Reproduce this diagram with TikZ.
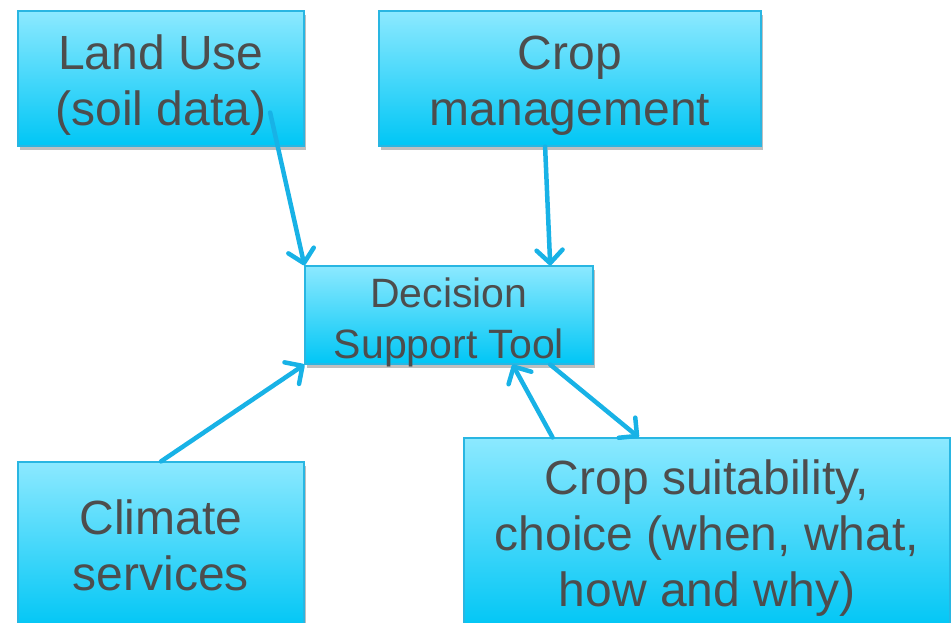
\documentclass[tikz,border=0pt]{standalone}
\usepackage{fontspec}
\setmainfont{Liberation Sans}
\usetikzlibrary{arrows.meta,calc,shadows}
\definecolor{txt}{HTML}{4D4D4D}
\definecolor{boxtop}{HTML}{8CE9FF}
\definecolor{boxbot}{HTML}{00C6F5}
\definecolor{boxline}{HTML}{29B6E2}
\definecolor{arrowc}{HTML}{18B2E6}
\newcommand{\upstrut}[1]{\rule{0pt}{#1}}
\newcommand{\nodepth}[1]{\raisebox{0pt}[\height][0pt]{#1}}
\begin{document}
\begin{tikzpicture}[x=1pt,y=-1pt,
  box/.style={draw=boxline, line width=1.2pt, top color=boxtop, bottom color=boxbot,
    text=txt, align=center, inner sep=0pt,
    drop shadow={shadow xshift=2pt, shadow yshift=-4pt, opacity=0.25, fill=black}},
  big/.style={font=\fontsize{48}{56}\selectfont},
  mid/.style={font=\fontsize{41}{51}\selectfont},
  conn/.style={draw=arrowc, line width=4.5pt, line cap=round,
    -{Straight Barb[length=13pt,width=26pt,line cap=round,line join=round]}}]
\useasboundingbox (0,0) rectangle (951,623);
\node[box,big,minimum width=286pt,minimum height=135pt] (lu) at (161,78.5) {\upstrut{47pt}Land Use\\(soil data)};
\node[box,big,minimum width=382pt,minimum height=135pt] (cm) at (570,78.5) {\upstrut{47pt}Crop\\management};
\node[box,mid,minimum width=288pt,minimum height=98pt] (dst) at (449,315) {\upstrut{35pt}Decision\\\nodepth{Support Tool}};
\node[box,big,minimum width=286pt,minimum height=167pt] (cl) at (161,545.5) {Climate\\services};
\node[box,big,minimum width=486pt,minimum height=191pt] (cs) at (707,533.5) {\upstrut{43pt}Crop suitability,\\choice (when, what,\\how and why)};
\draw[conn] ($(lu.south west)!0.88!(lu.south east)+(0,-34)$) -- (dst.north west);
\draw[conn] ($(cm.south west)!0.435!(cm.south east)$) -- ($(dst.north west)!0.85!(dst.north east)$);
\draw[conn] (cl.north) -- (dst.south west);
\draw[conn] ($(cs.north west)!0.183!(cs.north east)$) -- ($(dst.south west)!0.72!(dst.south east)$);
\draw[conn] ($(dst.south west)!0.85!(dst.south east)$) -- ($(cs.north west)!0.36!(cs.north east)$);
\end{tikzpicture}
\end{document}
